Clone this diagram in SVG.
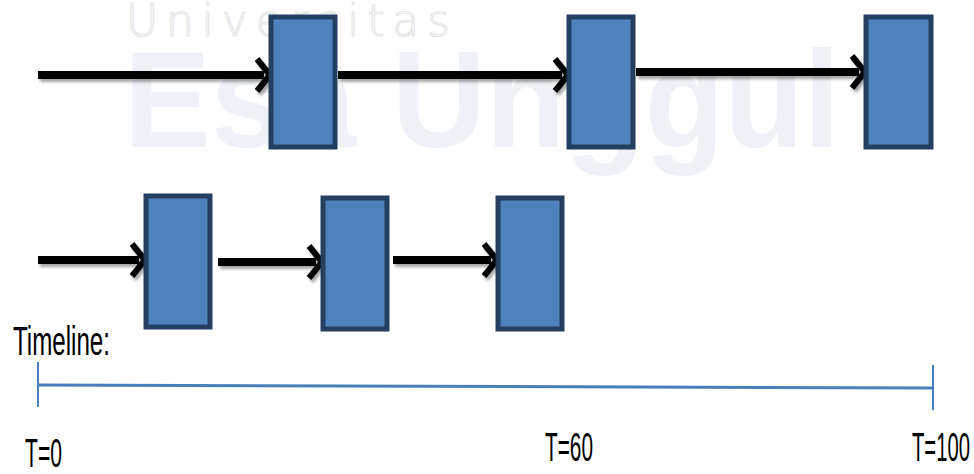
<svg xmlns="http://www.w3.org/2000/svg" width="974" height="474" viewBox="0 0 974 474">
<defs>
<filter id="sh" filterUnits="userSpaceOnUse" x="0" y="0" width="974" height="474">
<feDropShadow dx="2" dy="3" stdDeviation="1.5" flood-color="#000" flood-opacity="0.35"/>
</filter>
</defs>
<style>
.wm1{font-family:"DejaVu Sans","Liberation Sans",sans-serif;font-weight:200;font-size:44px;fill:none;stroke:#e6e6e6;stroke-width:1.2}
.wm2{font-family:"Liberation Sans",sans-serif;font-weight:bold;font-size:138px;fill:#eef1f5}
.box{fill:#4f81bd;stroke:#243f60;stroke-width:5}
.arr{fill:none;stroke:#000;stroke-width:8;filter:url(#sh)}
.head{fill:none;stroke:#000;stroke-width:6;stroke-linejoin:miter;filter:url(#sh)}
.tl{fill:none;stroke:#4a7ebb;stroke-width:3}
.tick{fill:none;stroke:#4a7ebb;stroke-width:2}
.lbl{font-family:"Liberation Sans",sans-serif;font-size:40px;fill:#000}
</style>
<g id="watermark">
<text class="wm1" x="126" y="36" textLength="324" lengthAdjust="spacing">Universitas</text>
<text class="wm2" x="124" y="147" textLength="716" lengthAdjust="spacingAndGlyphs">Esa Unggul</text>
</g>
<g id="connectors">
<path class="arr" d="M38,75 H264"/>
<path class="head" d="M257,59 L270,75 L257,91"/>
<path class="arr" d="M338,75 H562"/>
<path class="head" d="M555,59 L568,75 L555,91"/>
<path class="arr" d="M636,72 H859"/>
<path class="head" d="M852,56 L865,72 L852,88"/>
<path class="arr" d="M38,260 H139"/>
<path class="head" d="M132,244 L145,260 L132,276"/>
<path class="arr" d="M218,262 H316"/>
<path class="head" d="M309,246 L322,262 L309,278"/>
<path class="arr" d="M393,260 H491"/>
<path class="head" d="M484,244 L497,260 L484,276"/>
</g>
<g id="top1"><rect class="box" x="271" y="17" width="64" height="130"/></g>
<g id="top2"><rect class="box" x="569" y="17" width="64" height="130"/></g>
<g id="top3"><rect class="box" x="866" y="17" width="65" height="130"/></g>
<g id="bot1"><rect class="box" x="146" y="196" width="64" height="131"/></g>
<g id="bot2"><rect class="box" x="323" y="198" width="64" height="131"/></g>
<g id="bot3"><rect class="box" x="498" y="198" width="64" height="131"/></g>
<g id="timeline">
<text class="lbl" x="13" y="355" textLength="97" lengthAdjust="spacingAndGlyphs">Timeline:</text>
<path class="tl" d="M39,385 L932,388"/>
<path class="tick" d="M38,362 V407"/>
<path class="tick" d="M933,365 V410"/>
<text class="lbl" x="25" y="467" textLength="37" lengthAdjust="spacingAndGlyphs">T=0</text>
<text class="lbl" x="545" y="461" textLength="48" lengthAdjust="spacingAndGlyphs">T=60</text>
<text class="lbl" x="912" y="461" textLength="58" lengthAdjust="spacingAndGlyphs">T=100</text>
</g>
</svg>
